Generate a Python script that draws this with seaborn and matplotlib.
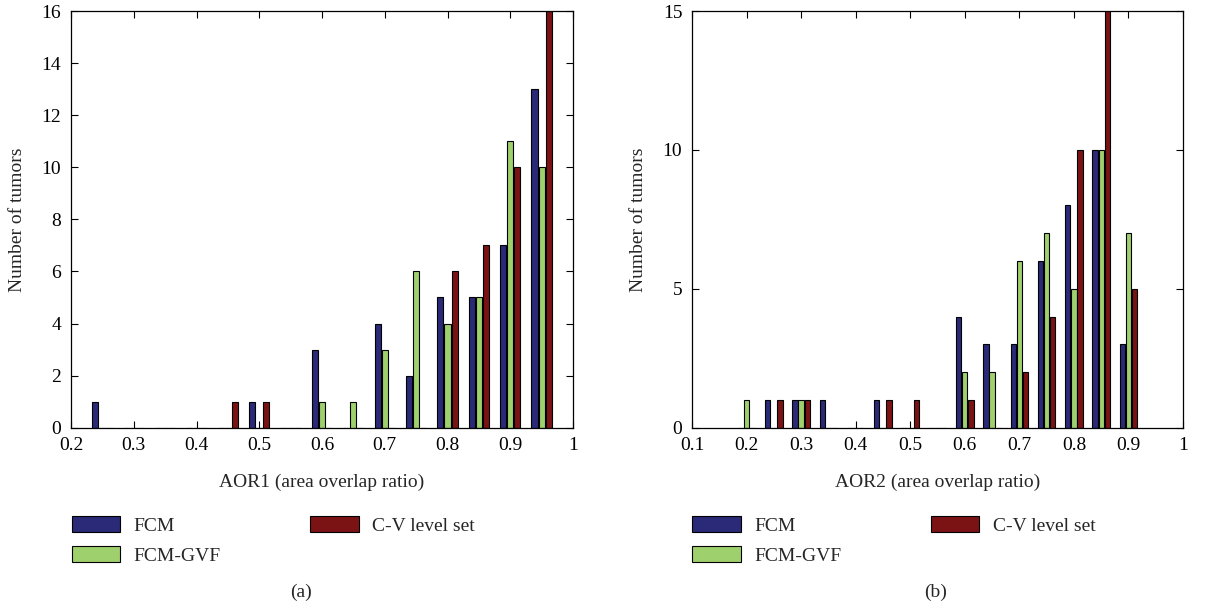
import numpy as np
import pandas as pd
import matplotlib
matplotlib.use("Agg")
import matplotlib.pyplot as plt
import seaborn as sns

# Histogram bins (bar group centres) and counts for each method
methods = ["FCM", "FCM-GVF", "C-V level set"]
colors = ["#2a2a78", "#9fd06e", "#7b1214"]

bins_a = [0.25, 0.30, 0.35, 0.40, 0.45, 0.50, 0.55, 0.60, 0.65, 0.70, 0.75, 0.80, 0.85, 0.90, 0.95]
fcm_a = [1, 0, 0, 0, 0, 1, 0, 3, 0, 4, 2, 5, 5, 7, 13]
gvf_a = [0, 0, 0, 0, 0, 0, 0, 1, 1, 3, 6, 4, 5, 11, 10]
cv_a = [0, 0, 0, 0, 1, 1, 0, 0, 0, 0, 0, 6, 7, 10, 16]

bins_b = [0.20, 0.25, 0.30, 0.35, 0.40, 0.45, 0.50, 0.55, 0.60, 0.65, 0.70, 0.75, 0.80, 0.85, 0.90]
fcm_b = [0, 1, 1, 1, 0, 1, 0, 0, 4, 3, 3, 6, 8, 10, 3]
gvf_b = [1, 0, 1, 0, 0, 0, 0, 0, 2, 2, 6, 7, 5, 10, 7]
cv_b = [0, 1, 1, 0, 0, 1, 1, 0, 1, 0, 2, 4, 10, 15, 5]

xticks_a = [0.2, 0.3, 0.4, 0.5, 0.6, 0.7, 0.8, 0.9, 1.0]
xticklabels_a = ["0.2", "0.3", "0.4", "0.5", "0.6", "0.7", "0.8", "0.9", "1"]
yticks_a = [0, 2, 4, 6, 8, 10, 12, 14, 16]
xticks_b = [0.1, 0.2, 0.3, 0.4, 0.5, 0.6, 0.7, 0.8, 0.9, 1.0]
xticklabels_b = ["0.1", "0.2", "0.3", "0.4", "0.5", "0.6", "0.7", "0.8", "0.9", "1"]
yticks_b = [0, 5, 10, 15]


def long_form(bins, fcm, gvf, cv):
    frames = []
    for name, vals in zip(methods, [fcm, gvf, cv]):
        frames.append(pd.DataFrame({"bin": np.round(bins, 2), "count": vals, "method": name}))
    return pd.concat(frames, ignore_index=True)


df_a = long_form(bins_a, fcm_a, gvf_a, cv_a)
df_b = long_form(bins_b, fcm_b, gvf_b, cv_b)

sns.set_style("ticks")
plt.rcParams["font.family"] = ["Liberation Serif", "DejaVu Serif"]
plt.rcParams["font.size"] = 14
plt.rcParams["axes.linewidth"] = 0.9

fig = plt.figure(figsize=(12.3, 6.07), dpi=100)
W, H = 1230, 607
ax1 = fig.add_axes([71 / W, 1 - 427.7 / H, 502 / W, 416.7 / H])
ax2 = fig.add_axes([692 / W, 1 - 427.7 / H, 491 / W, 416.7 / H])

panels = [
    (ax1, df_a, (0.2, 1.0), (0, 16), xticks_a, xticklabels_a, yticks_a,
     "AOR1 (area overlap ratio)", "(a)", 301, 71.7),
    (ax2, df_b, (0.1, 1.0), (0, 15), xticks_b, xticklabels_b, yticks_b,
     "AOR2 (area overlap ratio)", "(b)", 936, 692),
]

for ax, df, xlim, ylim, xt, xtl, yt, xlabel, tag, cx, left in panels:
    sns.barplot(data=df, x="bin", y="count", hue="method", hue_order=methods,
                palette=colors, native_scale=True, errorbar=None,
                width=0.68, gap=0.15, edgecolor="black", linewidth=0.8,
                saturation=1, ax=ax)
    ax.set_xlim(*xlim)
    ax.set_ylim(*ylim)
    ax.set_xticks(xt)
    ax.set_xticklabels(xtl)
    ax.set_yticks(yt)
    ax.tick_params(direction="in", length=5, width=0.8, top=True, right=True,
                   labelsize=14, pad=7, colors="black")
    ax.set_xlabel(xlabel, fontsize=14, labelpad=14)
    ax.set_ylabel("Number of tumors", fontsize=14, labelpad=11)
    for sp in ax.spines.values():
        sp.set_visible(True)
        sp.set_color("black")

    handles, labels = ax.get_legend_handles_labels()
    ax.legend_.remove()
    fig.legend(handles, labels, loc="upper left",
               bbox_to_anchor=(left / W, 1 - 516 / H), ncol=2, frameon=False,
               borderpad=0, borderaxespad=0, handlelength=2.5, handleheight=0.88,
               handletextpad=0.69, labelspacing=0.6, columnspacing=4.6,
               fontsize=14)
    fig.text(cx / W, 1 - 592 / H, tag, ha="center", va="center", fontsize=14)

fig.savefig("out.png", dpi=100)
